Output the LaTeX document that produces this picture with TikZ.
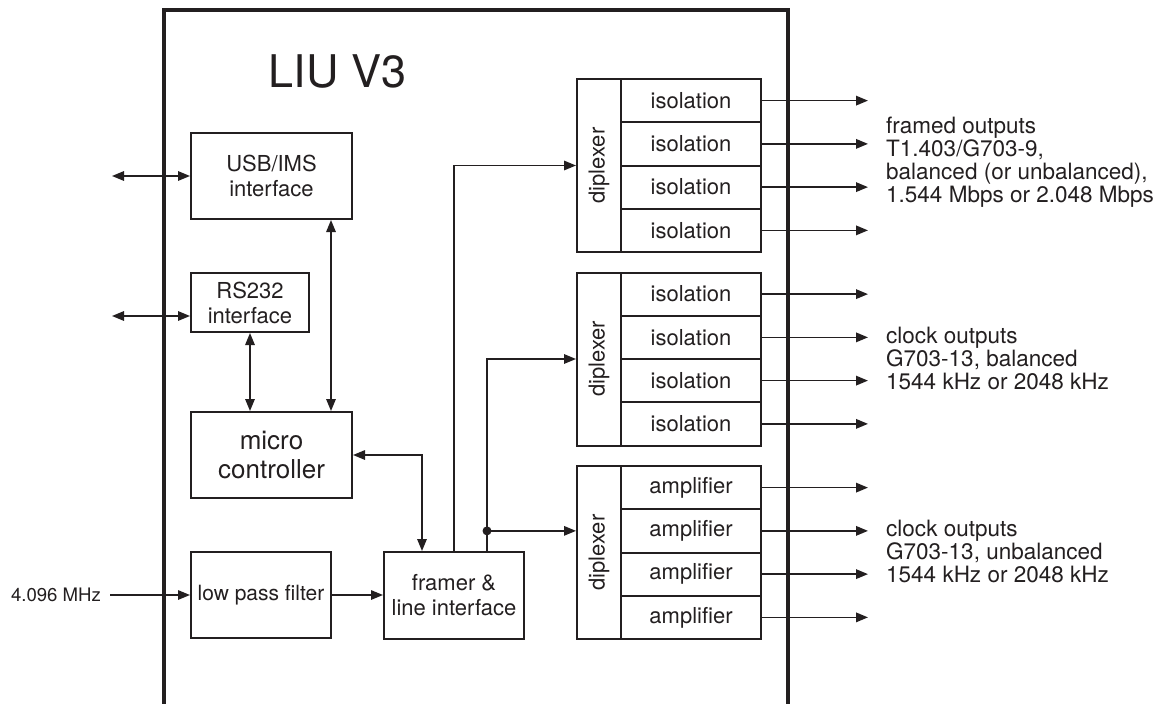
\documentclass[tikz,border=0pt]{standalone}
\usepackage{fontspec}
\setmainfont{TeX Gyre Heros}
\usetikzlibrary{arrows.meta}
\definecolor{ink}{RGB}{35,31,32}
\begin{document}
\begin{tikzpicture}[x=1pt,y=-1pt,
  blk/.style={draw=ink, line width=2pt, inner sep=0pt, text=ink, align=center,
    font=\fontsize{22}{25}\selectfont},
  conn/.style={draw=ink, line width=1.5pt},
  outl/.style={draw=ink, line width=1.7pt},
  tip/.style={-{Triangle[length=12pt,width=9.5pt]}},
  dbl/.style={{Triangle[length=12pt,width=9.5pt]}-{Triangle[length=12pt,width=9.5pt]}},
  lbl/.style={anchor=west, align=left, inner sep=0pt, text=ink,
    font=\fontsize{22.5}{23}\selectfont}]
\useasboundingbox (0,0) rectangle (1165,704);
% outer frame
\draw[ink, line width=3.5pt] (164,710) -- (164,10) -- (788,10) -- (788,710);
\node[text=ink, inner sep=0pt, font=\fontsize{45}{50}\selectfont] (title) at (337.5,72) {LIU V3};
% left blocks
\node[blk, minimum width=161pt, minimum height=86pt] (usb) at (271.5,176) {USB/IMS\\interface};
\node[blk, minimum width=118pt, minimum height=59pt] (rs) at (250,302.5) {RS232\\interface};
\node[blk, minimum width=161pt, minimum height=86pt, font=\fontsize{26}{29}\selectfont] (micro) at (271.5,455) {micro\\controller};
\node[blk, minimum width=140pt, minimum height=86pt, font=\fontsize{21}{24}\selectfont] (lpf) at (261,595) {low pass filter};
\node[blk, minimum width=140pt, minimum height=87pt] (framer) at (454,595.5) {framer \&\\line interface};
\node[text=ink, inner sep=0pt, font=\fontsize{18.6}{20}\selectfont] (mhz) at (56,595) {4.096 MHz};
% diplexers and cells
\foreach \i/\T/\txt in {1/79/isolation,2/272.5/isolation,3/466/amplifier}{
  \node[blk, minimum width=44pt, minimum height=173pt] (d\i) at (599,\T+86.5) {\rotatebox{90}{diplexer}};
  \foreach \j in {1,...,4}{
    \node[blk, minimum width=140pt, minimum height=43.25pt] (c\i\j) at (691,\T+43.25*\j-21.625) {\txt};
    \coordinate (o\i\j) at (868,\T+43.25*\j-21.625);
    \draw[outl, tip] (c\i\j.east) -- (o\i\j);
  }
}
% output labels
\node[lbl] (fo) at (886,162) {framed outputs\\T1.403/G703-9,\\balanced (or unbalanced),\\1.544 Mbps or 2.048 Mbps};
\node[lbl] (cb) at (886,358) {clock outputs\\G703-13, balanced\\1544 kHz or 2048 kHz};
\node[lbl] (cu) at (886,551) {clock outputs\\G703-13, unbalanced\\1544 kHz or 2048 kHz};
% helper coordinates
\coordinate (usbL) at (112,176);
\coordinate (rsL) at (112,316);
\coordinate (inL) at (110,595);
\coordinate (xu) at (331,0);
\coordinate (xf) at (422,0);
\coordinate (xb) at (487,0);
\coordinate (jn) at (xb |- c32);
% connectors
\draw[conn, dbl] (usbL) -- (usb.west);
\draw[conn, dbl] (rsL) -- (rsL -| rs.west);
\draw[conn, dbl] (rs.south) -- (rs.south |- micro.north);
\draw[conn, dbl] (usb.south -| xu) -- (micro.north -| xu);
\draw[conn, dbl] (micro.east) -| (framer.north -| xf);
\draw[conn, tip] (inL) -- (lpf.west);
\draw[conn, tip] (lpf.east) -- (lpf.east -| framer.west);
\draw[conn, tip] (framer.north) |- (d1.west);
\draw[conn, tip] (framer.north -| xb) |- (d2.west);
\draw[conn, tip] (jn) -- (jn -| d3.west);
\fill[ink] (jn) circle[radius=4.5pt];
\end{tikzpicture}
\end{document}
